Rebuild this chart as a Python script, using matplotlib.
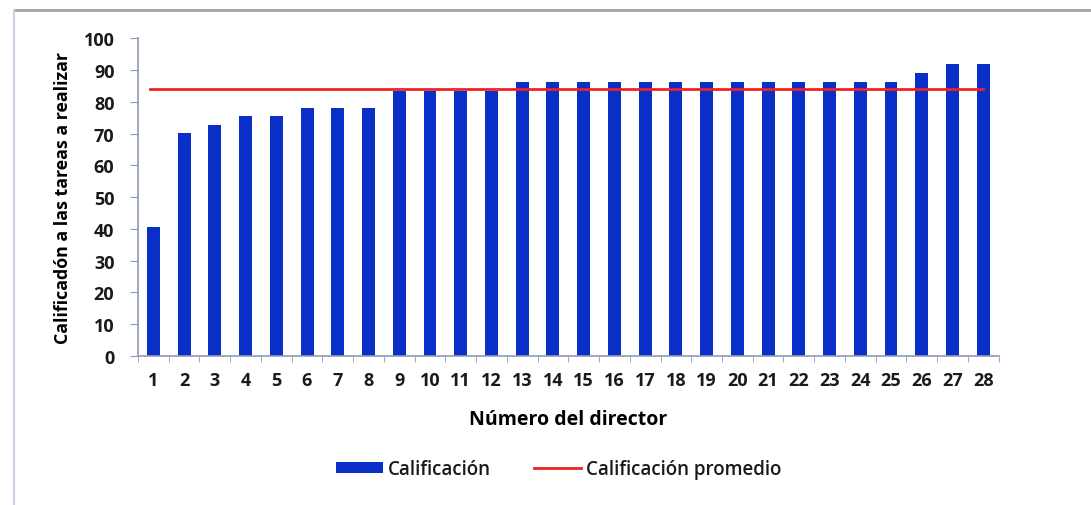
import matplotlib
matplotlib.use("Agg")
import matplotlib.pyplot as plt
from matplotlib.lines import Line2D
from matplotlib.patches import Patch
import numpy as np

# Scores per director
directors = [str(i) for i in range(1, 29)]
scores = [40.6, 70.2, 72.8, 75.5, 75.5, 78.2, 78.2, 78.2,
          83.5, 83.5, 83.5, 83.5,
          86.4, 86.4, 86.4, 86.4, 86.4, 86.4, 86.4, 86.4, 86.4, 86.4, 86.4, 86.4, 86.4,
          89.0, 92.0, 92.0]
average_score = 84.0
y_ticks = [0, 10, 20, 30, 40, 50, 60, 70, 80, 90, 100]

bar_color = "#0a2fc9"
line_color = "#ee2222"
axis_color = "#8d9bb8"
text_color = "#1a1a1a"

plt.rcParams["font.family"] = ["Open Sans", "DejaVu Sans"]
plt.rcParams["text.color"] = text_color
plt.rcParams["xtick.labelcolor"] = text_color
plt.rcParams["ytick.labelcolor"] = text_color

fig = plt.figure(figsize=(10.91, 5.06), dpi=100)
ax = fig.add_axes([0.1265, 0.2945, 0.7888, 0.6278])

x = np.arange(len(directors))
ax.bar(x, scores, width=0.42, color=bar_color, zorder=2)
ax.plot([x[0] - 0.1, x[-1]], [average_score, average_score],
        color=line_color, linewidth=2, zorder=3)

ax.set_xlim(-0.5, len(directors) - 0.5)
ax.set_ylim(0, 100)
ax.set_yticks(y_ticks)
ax.set_yticklabels([str(v) for v in y_ticks], fontsize=13, fontweight="bold")
ax.set_xticks(x)
ax.set_xticklabels(directors, fontsize=13, fontweight="bold")
ax.set_xticks(np.arange(-0.5, len(directors)), minor=True)

ax.tick_params(axis="x", which="major", length=0, pad=11)
ax.tick_params(axis="x", which="minor", length=4, color=axis_color, direction="out")
ax.tick_params(axis="y", length=6, color=axis_color, direction="out", pad=11)

for side in ["top", "right"]:
    ax.spines[side].set_visible(False)
for side in ["left", "bottom"]:
    ax.spines[side].set_color(axis_color)
    ax.spines[side].set_linewidth(1.2)

ax.set_ylabel("Calificadón a las tareas a realizar", fontsize=12.8,
              fontweight="bold", labelpad=8)
ax.set_xlabel("Número del director", fontsize=14, fontweight="bold", labelpad=14)

handles = [Patch(facecolor=bar_color, edgecolor="none"),
           Line2D([0], [0], color=line_color, linewidth=2)]
fig.legend(handles, ["Calificación", "Calificación promedio"],
           loc="center", bbox_to_anchor=(0.512, 0.071), ncol=2, frameon=False,
           prop={"size": 13.5, "weight": 600}, handlelength=2.5, handleheight=0.5,
           handletextpad=0.25, columnspacing=2.3)

# Outer frame of the chart area
fig.add_artist(Line2D([14 / 1091, 1], [1 - 11 / 506, 1 - 11 / 506],
                      transform=fig.transFigure, color="#a3a3a3", linewidth=2))
fig.add_artist(Line2D([14 / 1091, 14 / 1091], [0, 1 - 11 / 506],
                      transform=fig.transFigure, color="#c9d2e4", linewidth=1.5))

fig.savefig("out.png", dpi=100)
